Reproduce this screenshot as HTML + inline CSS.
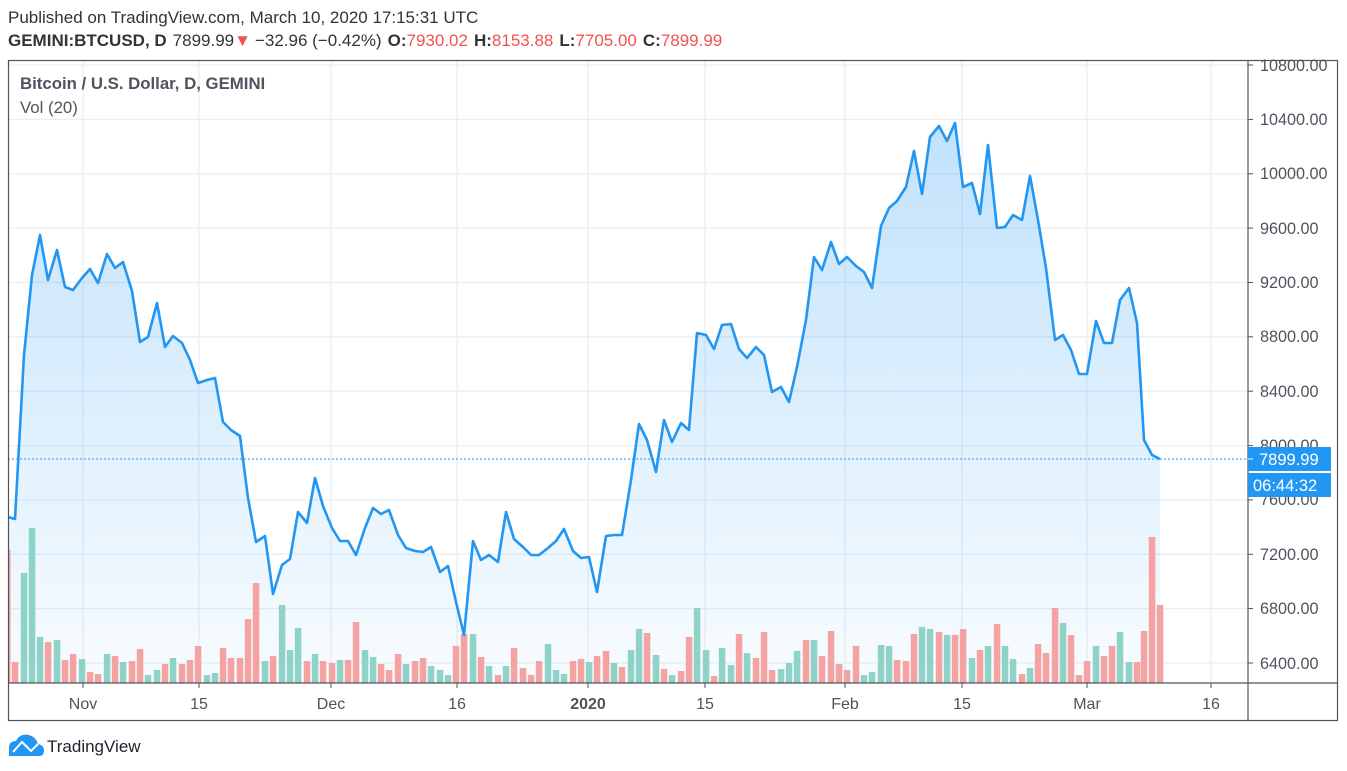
<!DOCTYPE html>
<html><head><meta charset="utf-8"><style>
html,body{margin:0;padding:0;background:#fff;width:1347px;height:771px;overflow:hidden}
svg{display:block;font-family:"Liberation Sans",Arial,sans-serif}
</style></head><body>
<svg width="1347" height="771" viewBox="0 0 1347 771" xmlns="http://www.w3.org/2000/svg">
<defs>
<linearGradient id="fillg" gradientUnits="userSpaceOnUse" x1="0" y1="120" x2="0" y2="683">
<stop offset="0" stop-color="#2196f3" stop-opacity="0.28"/>
<stop offset="1" stop-color="#2196f3" stop-opacity="0.03"/>
</linearGradient>
</defs>
<text x="8" y="23" font-size="17" fill="#333">Published on TradingView.com, March 10, 2020 17:15:31 UTC</text>
<text x="8" y="46" font-size="17" fill="#333"><tspan font-weight="bold">GEMINI:BTCUSD, D</tspan><tspan dx="6">7899.99</tspan><tspan fill="#ef5350">▼</tspan><tspan dx="4">−32.96 (−0.42%)</tspan><tspan dx="6" font-weight="bold">O:</tspan><tspan fill="#ef5350">7930.02</tspan><tspan dx="6" font-weight="bold">H:</tspan><tspan fill="#ef5350">8153.88</tspan><tspan dx="6" font-weight="bold">L:</tspan><tspan fill="#ef5350">7705.00</tspan><tspan dx="6" font-weight="bold">C:</tspan><tspan fill="#ef5350">7899.99</tspan></text>
<g stroke="#e9eff5" stroke-width="1.3">
<line x1="8" x2="1248" y1="663" y2="663"/><line x1="8" x2="1248" y1="608.6" y2="608.6"/><line x1="8" x2="1248" y1="554.3" y2="554.3"/><line x1="8" x2="1248" y1="499.9" y2="499.9"/><line x1="8" x2="1248" y1="445.6" y2="445.6"/><line x1="8" x2="1248" y1="391.2" y2="391.2"/><line x1="8" x2="1248" y1="336.8" y2="336.8"/><line x1="8" x2="1248" y1="282.5" y2="282.5"/><line x1="8" x2="1248" y1="228.1" y2="228.1"/><line x1="8" x2="1248" y1="173.8" y2="173.8"/><line x1="8" x2="1248" y1="119.4" y2="119.4"/><line x1="8" x2="1248" y1="65" y2="65"/>
<line x1="83" x2="83" y1="60" y2="683"/><line x1="199" x2="199" y1="60" y2="683"/><line x1="331" x2="331" y1="60" y2="683"/><line x1="457" x2="457" y1="60" y2="683"/><line x1="588" x2="588" y1="60" y2="683"/><line x1="705" x2="705" y1="60" y2="683"/><line x1="845" x2="845" y1="60" y2="683"/><line x1="962" x2="962" y1="60" y2="683"/><line x1="1087" x2="1087" y1="60" y2="683"/><line x1="1211" x2="1211" y1="60" y2="683"/>
</g>
<path fill="url(#fillg)" d="M8,517 L15,519 24,355 32,275 40,235 48,280 57,250 65,287 73,290 82,278 90,269 98,283 107,254 115,268 123,262 132,291 140,342 148,337 157,303 165,347 173,336 182,343 190,360 198,383 207,380 215,378 223,422 231,430 240,436 248,498 256,542 265,536 273,594 282,565 290,559 298,512 307,523 315,478 323,506 332,528 340,541 348,541 356,555 365,528 373,508 381,514 389,510 398,535 406,548 415,551 423,552 431,547 440,572 448,566 456,602 464,635 473,541 481,560 489,555 498,562 506,512 514,539 523,547 531,555 539,555 548,548 556,541 564,529 573,551 581,558 589,557 597,592 606,536 614,535 622,535 631,480 639,424 647,440 656,472 664,420 672,442 681,423 689,430 697,333 706,335 714,349 722,325 731,324 739,349 747,358 756,347 764,355 772,392 781,387 789,402 797,367 806,320 814,257 822,270 831,242 839,264 847,257 856,266 864,272 872,288 881,226 889,208 897,201 906,187 914,151 922,194 930,137 939,126 947,141 955,123 963,187 972,183 980,214 988,145 997,228 1005,227 1013,215 1022,220 1030,176 1038,220 1046,268 1055,340 1063,335 1071,350 1079,374 1087,374 1096,321 1104,343 1112,343 1120,300 1129,288 1137,323 1144,440 1152,455 1160,459 L1160,683 L8,683 Z"/>
<g id="vol">
<rect x="8" y="550" width="2.5" height="133" fill="#f5a3a2"/>
<rect x="11.8" y="662" width="6.5" height="21" fill="#f5a3a2"/><rect x="20.8" y="573" width="6.5" height="110" fill="#8fd2c8"/><rect x="28.8" y="528" width="6.5" height="155" fill="#8fd2c8"/><rect x="36.8" y="637" width="6.5" height="46" fill="#8fd2c8"/><rect x="44.8" y="642" width="6.5" height="41" fill="#f5a3a2"/><rect x="53.8" y="640" width="6.5" height="43" fill="#8fd2c8"/><rect x="61.8" y="660" width="6.5" height="23" fill="#f5a3a2"/><rect x="69.8" y="654" width="6.5" height="29" fill="#f5a3a2"/><rect x="78.8" y="659" width="6.5" height="24" fill="#8fd2c8"/><rect x="86.8" y="672" width="6.5" height="11" fill="#f5a3a2"/><rect x="94.8" y="674" width="6.5" height="9" fill="#f5a3a2"/><rect x="103.8" y="654" width="6.5" height="29" fill="#8fd2c8"/><rect x="111.8" y="656" width="6.5" height="27" fill="#f5a3a2"/><rect x="119.8" y="662" width="6.5" height="21" fill="#8fd2c8"/><rect x="128.8" y="661" width="6.5" height="22" fill="#f5a3a2"/><rect x="136.8" y="649" width="6.5" height="34" fill="#f5a3a2"/><rect x="144.8" y="675" width="6.5" height="8" fill="#8fd2c8"/><rect x="153.8" y="670" width="6.5" height="13" fill="#8fd2c8"/><rect x="161.8" y="664" width="6.5" height="19" fill="#f5a3a2"/><rect x="169.8" y="658" width="6.5" height="25" fill="#8fd2c8"/><rect x="178.8" y="664" width="6.5" height="19" fill="#f5a3a2"/><rect x="186.8" y="660" width="6.5" height="23" fill="#f5a3a2"/><rect x="194.8" y="646" width="6.5" height="37" fill="#f5a3a2"/><rect x="203.8" y="675" width="6.5" height="8" fill="#8fd2c8"/><rect x="211.8" y="673" width="6.5" height="10" fill="#8fd2c8"/><rect x="219.8" y="648" width="6.5" height="35" fill="#f5a3a2"/><rect x="227.8" y="658" width="6.5" height="25" fill="#f5a3a2"/><rect x="236.8" y="658" width="6.5" height="25" fill="#f5a3a2"/><rect x="244.8" y="619" width="6.5" height="64" fill="#f5a3a2"/><rect x="252.8" y="583" width="6.5" height="100" fill="#f5a3a2"/><rect x="261.8" y="661" width="6.5" height="22" fill="#8fd2c8"/><rect x="269.8" y="656" width="6.5" height="27" fill="#f5a3a2"/><rect x="278.8" y="605" width="6.5" height="78" fill="#8fd2c8"/><rect x="286.8" y="650" width="6.5" height="33" fill="#8fd2c8"/><rect x="294.8" y="628" width="6.5" height="55" fill="#8fd2c8"/><rect x="303.8" y="661" width="6.5" height="22" fill="#f5a3a2"/><rect x="311.8" y="654" width="6.5" height="29" fill="#8fd2c8"/><rect x="319.8" y="661" width="6.5" height="22" fill="#f5a3a2"/><rect x="328.8" y="663" width="6.5" height="20" fill="#f5a3a2"/><rect x="336.8" y="660" width="6.5" height="23" fill="#8fd2c8"/><rect x="344.8" y="660" width="6.5" height="23" fill="#f5a3a2"/><rect x="352.8" y="622" width="6.5" height="61" fill="#f5a3a2"/><rect x="361.8" y="650" width="6.5" height="33" fill="#8fd2c8"/><rect x="369.8" y="657" width="6.5" height="26" fill="#8fd2c8"/><rect x="377.8" y="664" width="6.5" height="19" fill="#f5a3a2"/><rect x="385.8" y="670" width="6.5" height="13" fill="#f5a3a2"/><rect x="394.8" y="654" width="6.5" height="29" fill="#f5a3a2"/><rect x="402.8" y="664" width="6.5" height="19" fill="#8fd2c8"/><rect x="411.8" y="661" width="6.5" height="22" fill="#f5a3a2"/><rect x="419.8" y="658" width="6.5" height="25" fill="#f5a3a2"/><rect x="427.8" y="666" width="6.5" height="17" fill="#8fd2c8"/><rect x="436.8" y="670" width="6.5" height="13" fill="#8fd2c8"/><rect x="444.8" y="675" width="6.5" height="8" fill="#8fd2c8"/><rect x="452.8" y="646" width="6.5" height="37" fill="#f5a3a2"/><rect x="460.8" y="634" width="6.5" height="49" fill="#f5a3a2"/><rect x="469.8" y="634" width="6.5" height="49" fill="#8fd2c8"/><rect x="477.8" y="657" width="6.5" height="26" fill="#f5a3a2"/><rect x="485.8" y="666" width="6.5" height="17" fill="#8fd2c8"/><rect x="494.8" y="675" width="6.5" height="8" fill="#f5a3a2"/><rect x="502.8" y="666" width="6.5" height="17" fill="#8fd2c8"/><rect x="510.8" y="648" width="6.5" height="35" fill="#f5a3a2"/><rect x="519.8" y="668" width="6.5" height="15" fill="#f5a3a2"/><rect x="527.8" y="675" width="6.5" height="8" fill="#f5a3a2"/><rect x="535.8" y="661" width="6.5" height="22" fill="#f5a3a2"/><rect x="544.8" y="644" width="6.5" height="39" fill="#8fd2c8"/><rect x="552.8" y="670" width="6.5" height="13" fill="#8fd2c8"/><rect x="560.8" y="674" width="6.5" height="9" fill="#8fd2c8"/><rect x="569.8" y="661" width="6.5" height="22" fill="#f5a3a2"/><rect x="577.8" y="659" width="6.5" height="24" fill="#f5a3a2"/><rect x="585.8" y="662" width="6.5" height="21" fill="#8fd2c8"/><rect x="593.8" y="656" width="6.5" height="27" fill="#f5a3a2"/><rect x="602.8" y="651" width="6.5" height="32" fill="#f5a3a2"/><rect x="610.8" y="663" width="6.5" height="20" fill="#8fd2c8"/><rect x="618.8" y="667" width="6.5" height="16" fill="#f5a3a2"/><rect x="627.8" y="650" width="6.5" height="33" fill="#8fd2c8"/><rect x="635.8" y="629" width="6.5" height="54" fill="#8fd2c8"/><rect x="643.8" y="633" width="6.5" height="50" fill="#f5a3a2"/><rect x="652.8" y="655" width="6.5" height="28" fill="#8fd2c8"/><rect x="660.8" y="669" width="6.5" height="14" fill="#f5a3a2"/><rect x="668.8" y="675" width="6.5" height="8" fill="#8fd2c8"/><rect x="677.8" y="671" width="6.5" height="12" fill="#f5a3a2"/><rect x="685.8" y="637" width="6.5" height="46" fill="#f5a3a2"/><rect x="693.8" y="608" width="6.5" height="75" fill="#8fd2c8"/><rect x="702.8" y="650" width="6.5" height="33" fill="#8fd2c8"/><rect x="710.8" y="676" width="6.5" height="7" fill="#f5a3a2"/><rect x="718.8" y="648" width="6.5" height="35" fill="#8fd2c8"/><rect x="727.8" y="665" width="6.5" height="18" fill="#8fd2c8"/><rect x="735.8" y="634" width="6.5" height="49" fill="#f5a3a2"/><rect x="743.8" y="653" width="6.5" height="30" fill="#8fd2c8"/><rect x="752.8" y="658" width="6.5" height="25" fill="#f5a3a2"/><rect x="760.8" y="632" width="6.5" height="51" fill="#f5a3a2"/><rect x="768.8" y="670" width="6.5" height="13" fill="#f5a3a2"/><rect x="777.8" y="669" width="6.5" height="14" fill="#8fd2c8"/><rect x="785.8" y="663" width="6.5" height="20" fill="#8fd2c8"/><rect x="793.8" y="651" width="6.5" height="32" fill="#8fd2c8"/><rect x="802.8" y="640" width="6.5" height="43" fill="#f5a3a2"/><rect x="810.8" y="640" width="6.5" height="43" fill="#8fd2c8"/><rect x="818.8" y="656" width="6.5" height="27" fill="#f5a3a2"/><rect x="827.8" y="631" width="6.5" height="52" fill="#f5a3a2"/><rect x="835.8" y="664" width="6.5" height="19" fill="#f5a3a2"/><rect x="843.8" y="670" width="6.5" height="13" fill="#f5a3a2"/><rect x="852.8" y="646" width="6.5" height="37" fill="#f5a3a2"/><rect x="860.8" y="675" width="6.5" height="8" fill="#8fd2c8"/><rect x="868.8" y="672" width="6.5" height="11" fill="#8fd2c8"/><rect x="877.8" y="645" width="6.5" height="38" fill="#8fd2c8"/><rect x="885.8" y="646" width="6.5" height="37" fill="#8fd2c8"/><rect x="893.8" y="660" width="6.5" height="23" fill="#f5a3a2"/><rect x="902.8" y="661" width="6.5" height="22" fill="#f5a3a2"/><rect x="910.8" y="634" width="6.5" height="49" fill="#f5a3a2"/><rect x="918.8" y="627" width="6.5" height="56" fill="#8fd2c8"/><rect x="926.8" y="629" width="6.5" height="54" fill="#8fd2c8"/><rect x="935.8" y="632" width="6.5" height="51" fill="#f5a3a2"/><rect x="943.8" y="635" width="6.5" height="48" fill="#8fd2c8"/><rect x="951.8" y="635" width="6.5" height="48" fill="#f5a3a2"/><rect x="959.8" y="629" width="6.5" height="54" fill="#f5a3a2"/><rect x="968.8" y="658" width="6.5" height="25" fill="#8fd2c8"/><rect x="976.8" y="650" width="6.5" height="33" fill="#f5a3a2"/><rect x="984.8" y="646" width="6.5" height="37" fill="#8fd2c8"/><rect x="993.8" y="624" width="6.5" height="59" fill="#f5a3a2"/><rect x="1001.8" y="646" width="6.5" height="37" fill="#8fd2c8"/><rect x="1009.8" y="659" width="6.5" height="24" fill="#8fd2c8"/><rect x="1018.8" y="674" width="6.5" height="9" fill="#f5a3a2"/><rect x="1026.8" y="668" width="6.5" height="15" fill="#8fd2c8"/><rect x="1034.8" y="644" width="6.5" height="39" fill="#f5a3a2"/><rect x="1042.8" y="653" width="6.5" height="30" fill="#f5a3a2"/><rect x="1051.8" y="608" width="6.5" height="75" fill="#f5a3a2"/><rect x="1059.8" y="623" width="6.5" height="60" fill="#8fd2c8"/><rect x="1067.8" y="635" width="6.5" height="48" fill="#f5a3a2"/><rect x="1075.8" y="675" width="6.5" height="8" fill="#f5a3a2"/><rect x="1083.8" y="661" width="6.5" height="22" fill="#f5a3a2"/><rect x="1092.8" y="646" width="6.5" height="37" fill="#8fd2c8"/><rect x="1100.8" y="656" width="6.5" height="27" fill="#f5a3a2"/><rect x="1108.8" y="646" width="6.5" height="37" fill="#f5a3a2"/><rect x="1116.8" y="632" width="6.5" height="51" fill="#8fd2c8"/><rect x="1125.8" y="662" width="6.5" height="21" fill="#8fd2c8"/><rect x="1133.8" y="662" width="6.5" height="21" fill="#f5a3a2"/><rect x="1140.8" y="631" width="6.5" height="52" fill="#f5a3a2"/><rect x="1148.8" y="537" width="6.5" height="146" fill="#f5a3a2"/><rect x="1156.8" y="605" width="6.5" height="78" fill="#f5a3a2"/>
</g>
<line x1="8" x2="1248" y1="459" y2="459" stroke="#2196f3" stroke-width="1" stroke-dasharray="2,2"/>
<polyline fill="none" stroke="#2196f3" stroke-width="2.6" stroke-linejoin="round" points="8,517 15,519 24,355 32,275 40,235 48,280 57,250 65,287 73,290 82,278 90,269 98,283 107,254 115,268 123,262 132,291 140,342 148,337 157,303 165,347 173,336 182,343 190,360 198,383 207,380 215,378 223,422 231,430 240,436 248,498 256,542 265,536 273,594 282,565 290,559 298,512 307,523 315,478 323,506 332,528 340,541 348,541 356,555 365,528 373,508 381,514 389,510 398,535 406,548 415,551 423,552 431,547 440,572 448,566 456,602 464,635 473,541 481,560 489,555 498,562 506,512 514,539 523,547 531,555 539,555 548,548 556,541 564,529 573,551 581,558 589,557 597,592 606,536 614,535 622,535 631,480 639,424 647,440 656,472 664,420 672,442 681,423 689,430 697,333 706,335 714,349 722,325 731,324 739,349 747,358 756,347 764,355 772,392 781,387 789,402 797,367 806,320 814,257 822,270 831,242 839,264 847,257 856,266 864,272 872,288 881,226 889,208 897,201 906,187 914,151 922,194 930,137 939,126 947,141 955,123 963,187 972,183 980,214 988,145 997,228 1005,227 1013,215 1022,220 1030,176 1038,220 1046,268 1055,340 1063,335 1071,350 1079,374 1087,374 1096,321 1104,343 1112,343 1120,300 1129,288 1137,323 1144,440 1152,455 1160,459"/>
<rect x="8.5" y="60.5" width="1329" height="660" fill="none" stroke="#50535e" stroke-width="1.2"/>
<line x1="1248" x2="1248" y1="60" y2="721" stroke="#50535e" stroke-width="1.2"/>
<line x1="8" x2="1338" y1="683" y2="683" stroke="#50535e" stroke-width="1.2"/>
<g stroke="#50535e" stroke-width="1">
<line x1="1248" x2="1253" y1="663" y2="663"/><line x1="1248" x2="1253" y1="608.6" y2="608.6"/><line x1="1248" x2="1253" y1="554.3" y2="554.3"/><line x1="1248" x2="1253" y1="499.9" y2="499.9"/><line x1="1248" x2="1253" y1="445.6" y2="445.6"/><line x1="1248" x2="1253" y1="391.2" y2="391.2"/><line x1="1248" x2="1253" y1="336.8" y2="336.8"/><line x1="1248" x2="1253" y1="282.5" y2="282.5"/><line x1="1248" x2="1253" y1="228.1" y2="228.1"/><line x1="1248" x2="1253" y1="173.8" y2="173.8"/><line x1="1248" x2="1253" y1="119.4" y2="119.4"/><line x1="1248" x2="1253" y1="65" y2="65"/>
<line x1="83" x2="83" y1="683" y2="688"/><line x1="199" x2="199" y1="683" y2="688"/><line x1="331" x2="331" y1="683" y2="688"/><line x1="457" x2="457" y1="683" y2="688"/><line x1="588" x2="588" y1="683" y2="688"/><line x1="705" x2="705" y1="683" y2="688"/><line x1="845" x2="845" y1="683" y2="688"/><line x1="962" x2="962" y1="683" y2="688"/><line x1="1087" x2="1087" y1="683" y2="688"/><line x1="1211" x2="1211" y1="683" y2="688"/>
</g>
<g font-size="16.2" fill="#50535e" text-anchor="start">
<text x="1260" y="669">6400.00</text><text x="1260" y="614">6800.00</text><text x="1260" y="560">7200.00</text><text x="1260" y="505">7600.00</text><text x="1260" y="451">8000.00</text><text x="1260" y="397">8400.00</text><text x="1260" y="342">8800.00</text><text x="1260" y="288">9200.00</text><text x="1260" y="234">9600.00</text><text x="1260" y="179">10000.00</text><text x="1260" y="125">10400.00</text><text x="1260" y="71">10800.00</text>
</g>
<rect x="1248" y="447" width="83" height="24" fill="#2196f3"/>
<text x="1259" y="465" font-size="16.5" fill="#fff">7899.99</text>
<rect x="1248" y="473" width="83" height="24" fill="#2196f3"/>
<text x="1253" y="491" font-size="16.5" fill="#fff">06:44:32</text>
<line x1="1248" x2="1253" y1="459" y2="459" stroke="#fff" stroke-width="1"/>
<g font-size="16" fill="#50535e" text-anchor="middle">
<text x="83" y="709">Nov</text><text x="199" y="709">15</text><text x="331" y="709">Dec</text><text x="457" y="709">16</text><text x="588" y="709" font-weight="bold">2020</text><text x="705" y="709">15</text><text x="845" y="709">Feb</text><text x="962" y="709">15</text><text x="1087" y="709">Mar</text><text x="1211" y="709">16</text>
</g>
<text x="20" y="89" font-size="16.8" font-weight="bold" fill="#50535e">Bitcoin / U.S. Dollar, D, GEMINI</text>
<text x="20" y="113" font-size="16.8" fill="#50535e">Vol (20)</text>
<g>
<path d="M9,756 L9,748 Q9,741 16,741 Q20,733 29,735 Q36,737 38,744 Q44,745 44,751 Q44,756 39,756 Z" fill="#2196f3"/>
<polyline points="13,752 22,742 31,751 38,744" fill="none" stroke="#fff" stroke-width="2"/>
</g>
<text x="47" y="752" font-size="17" fill="#1e222d">TradingView</text>
</svg>
</body></html>
